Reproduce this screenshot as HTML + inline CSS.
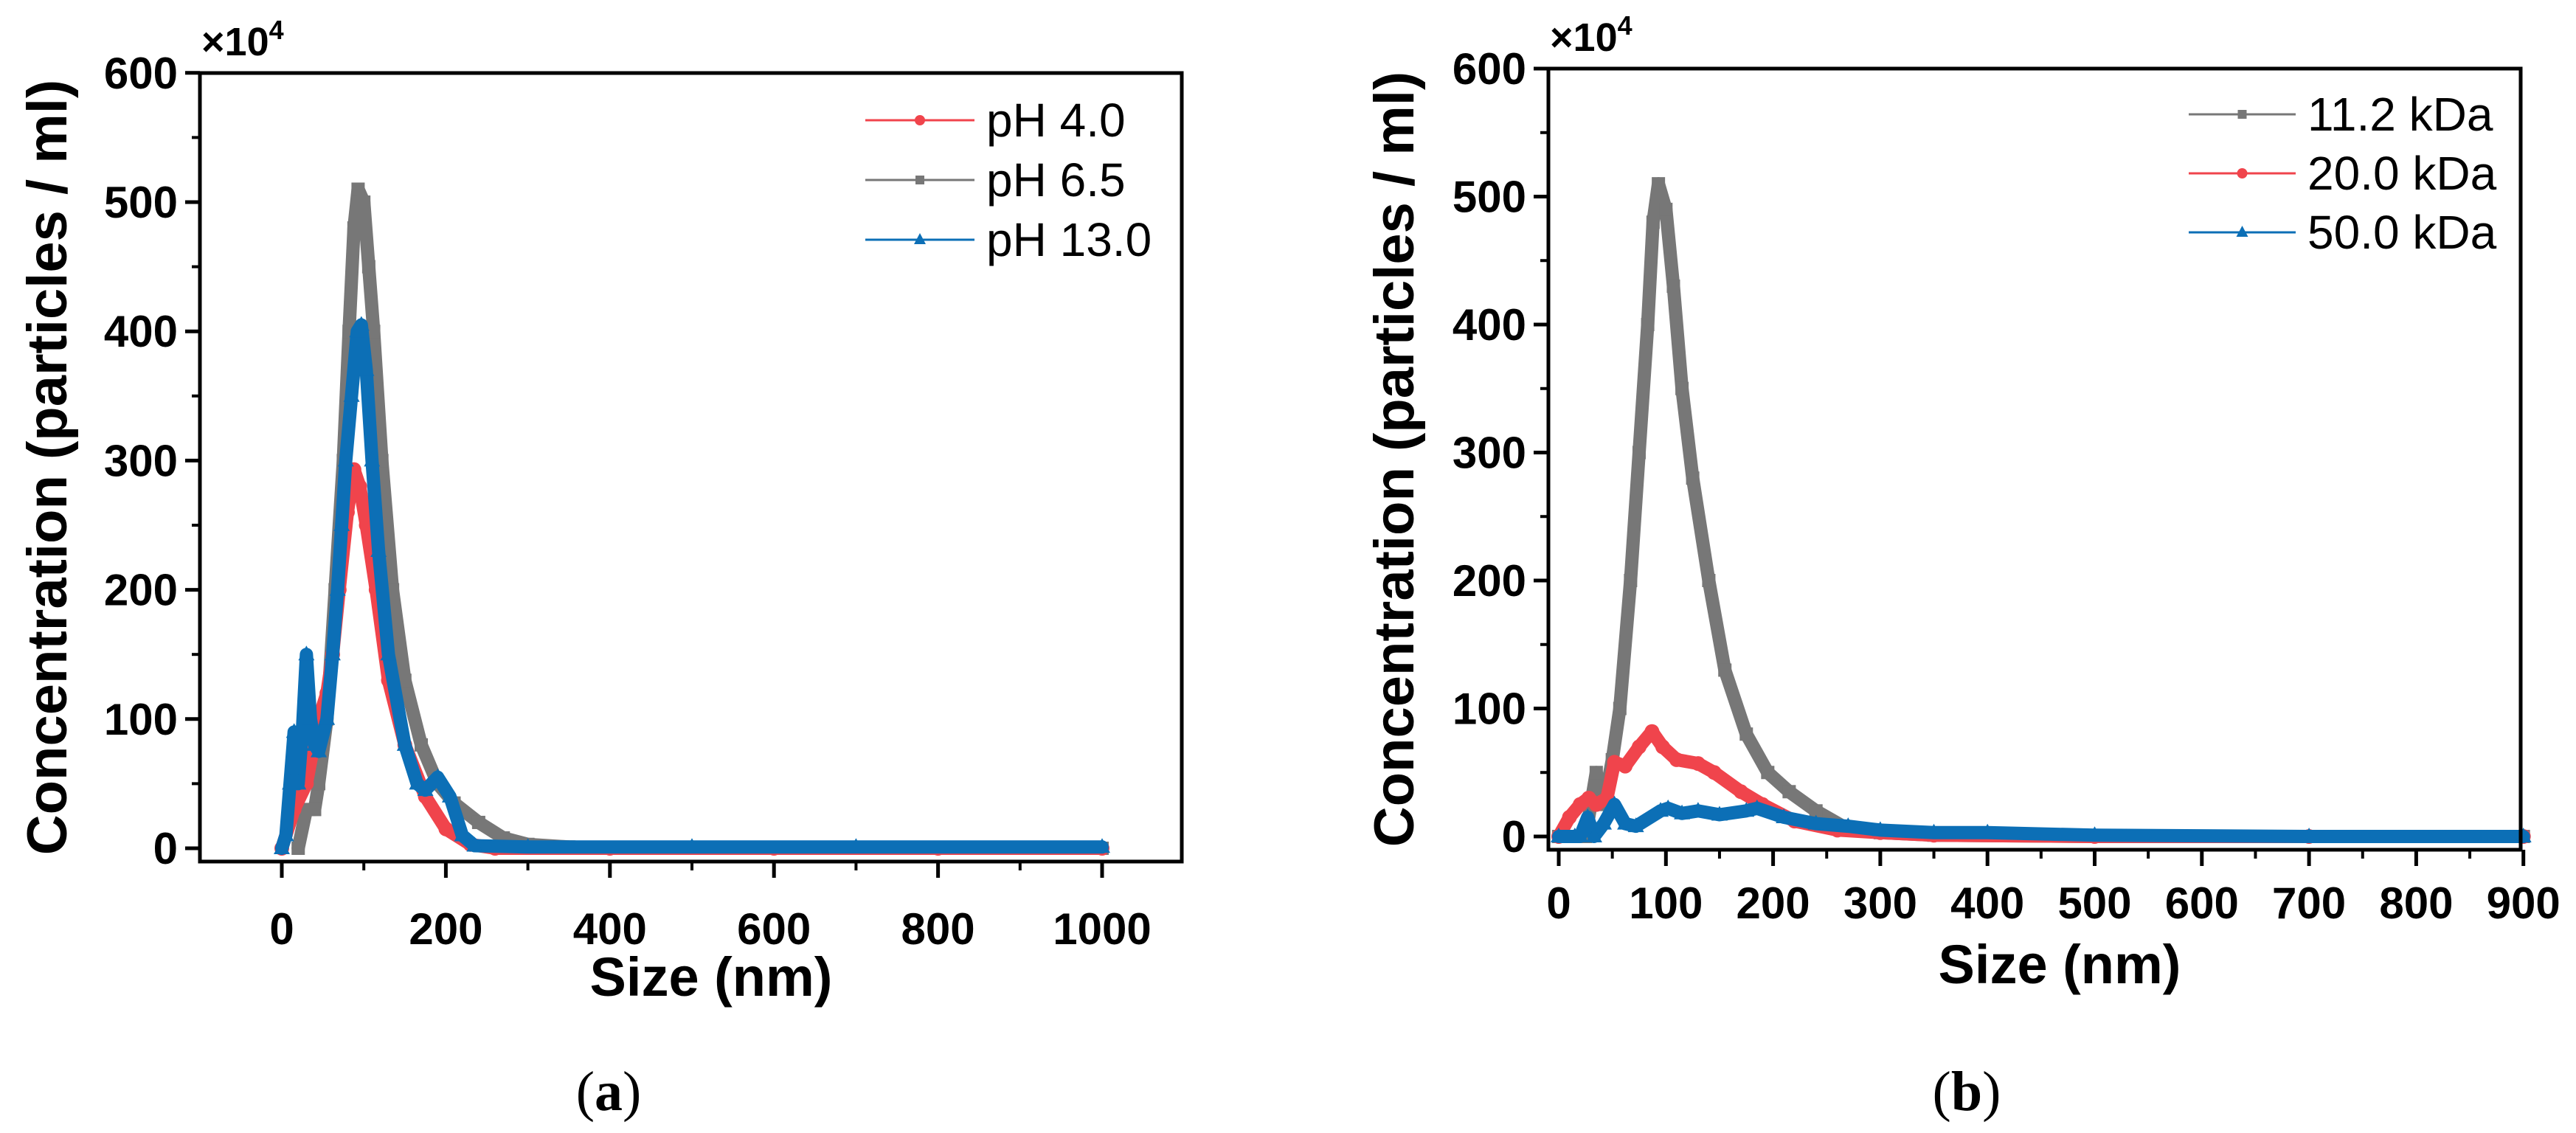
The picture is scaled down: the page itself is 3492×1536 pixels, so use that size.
<!DOCTYPE html>
<html><head><meta charset="utf-8"><style>
html,body{margin:0;padding:0;background:#fff}
svg{display:block}
text{font-family:"Liberation Sans",Arial,sans-serif}
text.serif{font-family:"Liberation Serif","DejaVu Serif",serif}
</style></head><body>
<svg id="fig" width="3492" height="1536" viewBox="0 0 3492 1536" xmlns="http://www.w3.org/2000/svg"></svg>
<script>
// ---- Panel (a) data ----
const aX65 = [20,30,40,45,55,65,75,82,88,93,100,106,112,122,135,150,170,190,210,240,270,300,350,400,600,800,1000];
const aY65 = [0,30,30,50,100,200,300,400,480,510,500,450,400,300,200,130,80,50,35,20,8,3,1,0,0,0,0];
const aX40 = [0,15,30,45,55,62,70,80,88,95,103,115,130,150,175,200,230,260,400,600,800,1000];
const aY40 = [0,30,50,100,120,150,200,260,293,280,250,200,130,80,40,15,3,0,0,0,0,0];
const aX130 = [0,5,10,15,20,25,30,35,40,45,55,62,68,73,78,85,92,97,103,110,118,130,150,165,175,190,205,220,235,300,500,700,1000];
const aY130 = [0,10,50,90,50,90,150,100,80,75,100,150,200,250,300,350,400,405,370,300,230,150,80,50,45,55,40,10,2,1,1,1,1];
const aXTicks = [0,200,400,600,800,1000];
const aYTicks = [0,100,200,300,400,500,600];
// ---- Panel (b) data ----
const bX112 = [0,25,35,42,50,57,67,75,83,88,93,100,107,115,125,140,155,175,195,215,240,265,300,350,500,700,900];
const bY112 = [0,0,50,25,60,100,200,300,400,480,510,490,430,350,280,200,130,80,50,35,20,8,3,1,0,0,0];
const bX200 = [0,10,20,28,35,45,52,62,75,87,97,110,130,145,170,190,220,260,300,350,500,700,900];
const bY200 = [0,15,25,30,25,30,58,55,70,82,70,60,57,50,35,25,12,5,3,1,0,0,0];
const bX500 = [0,15,20,27,33,42,52,62,72,95,102,115,130,150,175,185,210,240,270,300,350,400,500,700,900];
const bY500 = [0,0,0,15,0,10,25,10,8,20,22,18,20,17,20,22,15,10,8,5,3,3,1,0,0];
const bXTicks = [0,100,200,300,400,500,600,700,800,900];
const bYTicks = [0,100,200,300,400,500,600];

const NS="http://www.w3.org/2000/svg";
const svg=document.getElementById('fig');
function mk(tag,attrs,parent){const e=document.createElementNS(NS,tag);for(const k in attrs)e.setAttribute(k,attrs[k]);(parent||svg).appendChild(e);return e;}

function panel(p){
  const g=mk('g',{});
  
  
  const sx=v=>p.x0px+(v-p.x0)*p.kx, sy=v=>p.y0px-v*p.ky;
  const L=p.left,R=p.right,T=p.top,B=p.bottom;
  p.drawOrder.forEach(idx=>{
    const s=p.series[idx];
    const sg=mk('g',{},g);
    
    
    const pts=s.xs.map((x,i)=>sx(x)+','+sy(s.ys[i])).join(' ');
    const pl=mk('polyline',{points:pts,fill:'none',stroke:s.color,'stroke-width':18,'stroke-linejoin':'round','stroke-linecap':'round'},sg);
    
    
    s.xs.forEach((x,i)=>{
      const cx=sx(x),cy=sy(s.ys[i]);let m;
      if(s.marker==='sq')m=mk('rect',{x:cx-9,y:cy-9,width:18,height:18,fill:s.color},sg);
      else if(s.marker==='ci')m=mk('circle',{cx:cx,cy:cy,r:10,fill:s.color},sg);
      else m=mk('polygon',{points:`${cx},${cy-12} ${cx-11},${cy+8} ${cx+11},${cy+8}`,fill:s.color},sg);
      
      
    });
  });
  const box=mk('rect',{x:L,y:T,width:R-L,height:B-T,fill:'none',stroke:'#000','stroke-width':5},g);
  
  
  p.xTicks.forEach(v=>{
    const x=sx(v);
    const t=mk('line',{x1:x,y1:B,x2:x,y2:B+22,stroke:'#000','stroke-width':5},g);
    
    
    const lb=mk('text',{x:x,y:p.xLabY,'text-anchor':'middle','font-size':60,'font-weight':'bold'},g);
    lb.textContent=v;
    
    
  });
  for(let v=p.xMinorStart;v<=p.xMax;v+=p.xMinor){
    if(p.xTicks.includes(v))continue;
    const x=sx(v); if(x<L||x>R)continue;
    const t=mk('line',{x1:x,y1:B,x2:x,y2:B+12,stroke:'#000','stroke-width':4},g);
    
    
  }
  p.yTicks.forEach(v=>{
    const y=sy(v);
    const t=mk('line',{x1:L,y1:y,x2:L-20,y2:y,stroke:'#000','stroke-width':5},g);
    
    
    const lb=mk('text',{x:L-30,y:y+21,'text-anchor':'end','font-size':60,'font-weight':'bold'},g);
    lb.textContent=v;
    
    
  });
  for(let v=50;v<600;v+=100){
    const y=sy(v);
    const t=mk('line',{x1:L,y1:y,x2:L-11,y2:y,stroke:'#000','stroke-width':4},g);
    
    
  }
  const mult=mk('text',{x:L+2,y:T-24,'font-size':54,'font-weight':'bold'},g);
  mult.innerHTML='×10<tspan dy="-22" font-size="36">4</tspan>';
  
  
  const yt=mk('text',{x:0,y:0,transform:`translate(${p.yTitleX},${(T+B)/2}) rotate(-90)`,'text-anchor':'middle','font-size':76,'font-weight':'bold'},g);
  yt.textContent='Concentration (particles / ml)';
  
  
  const xt=mk('text',{x:p.xTitleX,y:p.xTitleY,'text-anchor':'middle','font-size':74,'font-weight':'bold'},g);
  xt.textContent='Size (nm)';
  
  
  p.series.forEach((s,i)=>{
    const y=p.legY+i*p.legDy;
    const lg=mk('g',{},g);
    
    
    mk('line',{x1:p.legX1,y1:y,x2:p.legX2,y2:y,stroke:s.color,'stroke-width':3},lg);
    const cx=(p.legX1+p.legX2)/2;
    if(s.marker==='sq')mk('rect',{x:cx-6,y:y-6,width:12,height:12,fill:s.color},lg);
    else if(s.marker==='ci')mk('circle',{cx:cx,cy:y,r:7,fill:s.color},lg);
    else mk('polygon',{points:`${cx},${y-9} ${cx-8},${y+6} ${cx+8},${y+6}`,fill:s.color},lg);
    const tx=mk('text',{x:p.legX2+16,y:y+22,'font-size':64},lg);
    tx.textContent=s.label;
  });
  const cap=mk('text',{x:p.capX,y:1505,'text-anchor':'middle','font-size':76,'class':'serif'},g);
  cap.innerHTML='(<tspan font-weight="bold">'+p.cap+'</tspan>)';
  
  
}

panel({name:'panel-a',left:271,right:1602,top:99,bottom:1168,x0:0,x0px:382,kx:1.112,y0px:1150,ky:1.752,
  xTicks:aXTicks,yTicks:aYTicks,xMinor:100,xMinorStart:-100,xMax:1100,xLabY:1280,
  yTitleX:90,xTitleX:964,xTitleY:1350,legX1:1173,legX2:1321,legY:163,legDy:81,capX:825,cap:'a',
  drawOrder:[1,0,2],
  series:[
    {name:'series-ph-4-0',label:'pH 4.0',color:'#f0444c',marker:'ci',xs:aX40,ys:aY40},
    {name:'series-ph-6-5',label:'pH 6.5',color:'#777777',marker:'sq',xs:aX65,ys:aY65},
    {name:'series-ph-13-0',label:'pH 13.0',color:'#0c6fb6',marker:'tr',xs:aX130,ys:aY130}
  ]});
panel({name:'panel-b',left:2099,right:3417,top:93,bottom:1152,x0:0,x0px:2113,kx:1.453,y0px:1134,ky:1.735,
  xTicks:bXTicks,yTicks:bYTicks,xMinor:50,xMinorStart:50,xMax:900,xLabY:1245,
  yTitleX:1916,xTitleX:2792,xTitleY:1333,legX1:2967,legX2:3112,legY:155,legDy:80,capX:2666,cap:'b',
  drawOrder:[0,1,2],
  series:[
    {name:'series-11-2-kda',label:'11.2 kDa',color:'#777777',marker:'sq',xs:bX112,ys:bY112},
    {name:'series-20-0-kda',label:'20.0 kDa',color:'#f0444c',marker:'ci',xs:bX200,ys:bY200},
    {name:'series-50-0-kda',label:'50.0 kDa',color:'#0c6fb6',marker:'tr',xs:bX500,ys:bY500}
  ]});
</script>
</body></html>
